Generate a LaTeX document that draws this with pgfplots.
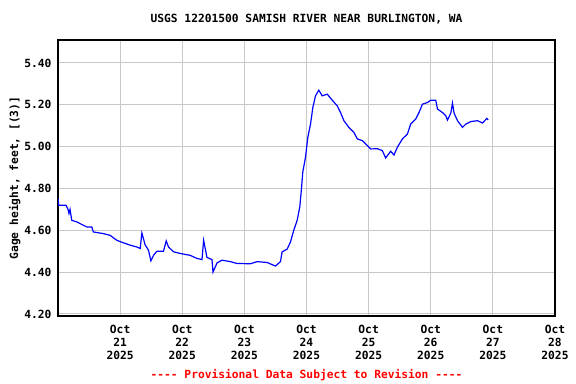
\documentclass[border=0pt]{standalone}
\usepackage{fontspec}
\setmainfont{DejaVu Sans Mono}[Ligatures=TeXOff]
\usepackage{pgfplots}
\pgfplotsset{compat=1.18}
\definecolor{gridgray}{RGB}{200,200,200}
\definecolor{usgsblue}{RGB}{0,0,255}
\newcommand{\lab}{\fontsize{11.3}{13}\selectfont\bfseries}
\begin{document}
\begin{tikzpicture}
\path[use as bounding box] (0,0) rectangle (576bp,384bp);
\begin{axis}[
  at={(58bp,68bp)}, anchor=south west,
  scale only axis, width=497bp, height=276bp,
  xmin=0, xmax=8, ymin=4.19, ymax=5.51,
  xtick={1,2,3,4,5,6,7,8},
  xticklabels={{Oct\\21\\2025},{Oct\\22\\2025},{Oct\\23\\2025},{Oct\\24\\2025},{Oct\\25\\2025},{Oct\\26\\2025},{Oct\\27\\2025},{Oct\\28\\2025}},
  xticklabel style={align=center, font=\lab, yshift=-6bp},
  ytick={4.2,4.4,4.6,4.8,5.0,5.2,5.4},
  yticklabel style={font=\lab, xshift=-3bp, /pgf/number format/fixed, /pgf/number format/fixed zerofill, /pgf/number format/precision=2},
  /pgf/number format/assume math mode=true,
  major tick length=0pt,
  grid=major,
  major grid style={gridgray, line width=1bp},
  axis line style={black, line width=1.3bp},
  ylabel={Gage height, feet, [(3)]},
  ylabel style={font=\lab, at={(axis description cs:-0.087,0.5)}, anchor=center},
]
\addplot[usgsblue, line width=1.2bp] coordinates {
(0.005,4.751) (0.008,4.72) (0.129,4.72) (0.161,4.70) (0.177,4.68) (0.194,4.70)
(0.221,4.648) (0.302,4.64) (0.408,4.624) (0.463,4.616) (0.544,4.616) (0.569,4.592)
(0.731,4.584) (0.839,4.576) (0.947,4.552) (1.053,4.54) (1.161,4.529) (1.269,4.52)
(1.323,4.513) (1.350,4.587) (1.403,4.53) (1.456,4.505) (1.495,4.454) (1.537,4.48)
(1.592,4.50) (1.698,4.50) (1.742,4.549) (1.779,4.52) (1.860,4.497) (1.968,4.489)
(2.129,4.48) (2.237,4.465) (2.318,4.46) (2.344,4.552) (2.398,4.47) (2.479,4.46)
(2.495,4.40) (2.532,4.425) (2.560,4.444) (2.640,4.457) (2.774,4.45) (2.882,4.441)
(3.097,4.44) (3.205,4.45) (3.366,4.446) (3.500,4.429) (3.581,4.45) (3.608,4.497)
(3.689,4.51) (3.742,4.544) (3.795,4.60) (3.850,4.648) (3.892,4.711) (3.919,4.798)
(3.940,4.878) (3.984,4.949) (4.021,5.044) (4.065,5.108) (4.102,5.187) (4.145,5.243)
(4.198,5.27) (4.253,5.243) (4.334,5.251) (4.415,5.222) (4.495,5.195) (4.548,5.163)
(4.602,5.124) (4.682,5.092) (4.763,5.068) (4.818,5.037) (4.898,5.029) (4.979,5.005)
(5.032,4.989) (5.140,4.99) (5.221,4.981) (5.274,4.946) (5.355,4.978) (5.408,4.96)
(5.463,4.997) (5.544,5.037) (5.624,5.06) (5.677,5.108) (5.758,5.132) (5.811,5.163)
(5.866,5.203) (5.947,5.211) (6.000,5.222) (6.081,5.222) (6.108,5.18) (6.189,5.163)
(6.242,5.148) (6.269,5.127) (6.323,5.16) (6.350,5.208) (6.376,5.16) (6.431,5.124)
(6.511,5.092) (6.565,5.108) (6.645,5.12) (6.753,5.124) (6.834,5.113) (6.903,5.135)
(6.924,5.128)
};
\end{axis}
\node[font=\lab] at (306.5bp,365bp) {USGS 12201500 SAMISH RIVER NEAR BURLINGTON, WA};
\node[font=\lab, text=red] at (306.5bp,9bp) {---- Provisional Data Subject to Revision ----};
\end{tikzpicture}
\end{document}
